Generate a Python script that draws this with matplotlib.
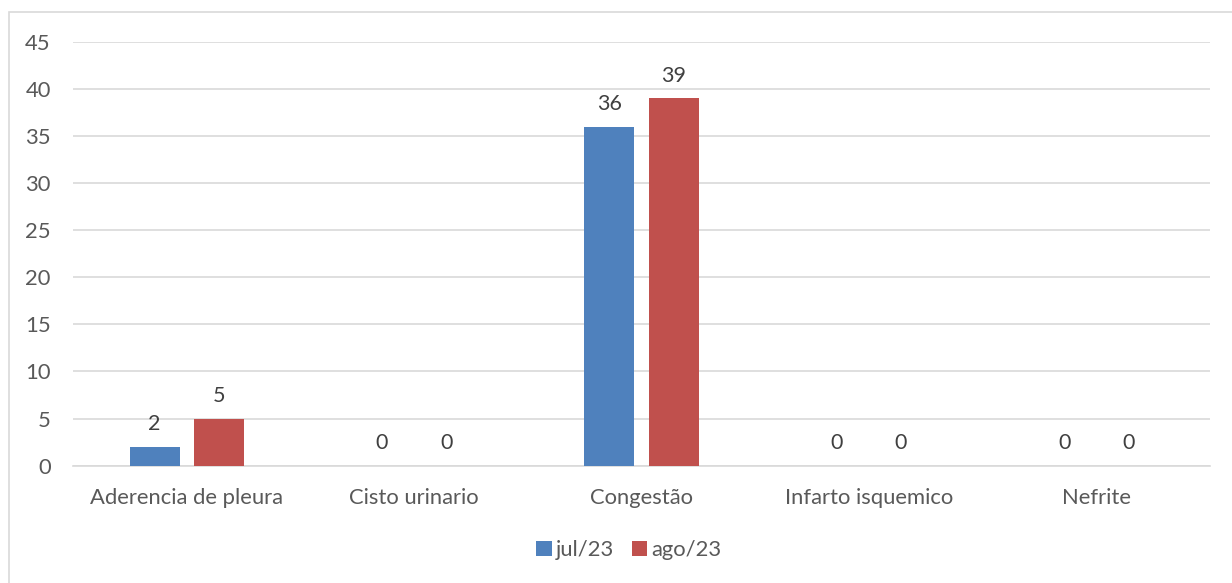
import matplotlib
matplotlib.use("Agg")
import matplotlib.pyplot as plt
from matplotlib.patches import Rectangle
import numpy as np

categories = ["Aderencia de pleura", "Cisto urinario", "Congestão", "Infarto isquemico", "Nefrite"]
series_names = ["jul/23", "ago/23"]
jul23 = [2, 0, 36, 0, 0]
ago23 = [5, 0, 39, 0, 0]
y_ticks = [0, 5, 10, 15, 20, 25, 30, 35, 40, 45]

colors = ["#4F81BD", "#C0504D"]
text_color = "#595959"
grid_color = "#D9D9D9"

plt.rcParams["font.family"] = ["Lato", "DejaVu Sans"]

fig = plt.figure(figsize=(12.32, 5.83), dpi=100)
fig.patch.set_facecolor("white")

# outer chart border
fig.add_artist(Rectangle((9 / 1232, -0.05), 1.1, 1 - 12 / 583 + 0.05,
                         transform=fig.transFigure, fill=False,
                         edgecolor=grid_color, linewidth=1.2))

ax = fig.add_axes([73 / 1232, 1 - 465.7 / 583, (1210 - 73) / 1232, (465.7 - 41.7) / 583])

x = np.arange(len(categories))
width = 0.22
offset = 0.141
for vals, name, col, off in [(jul23, series_names[0], colors[0], -offset),
                             (ago23, series_names[1], colors[1], offset)]:
    bars = ax.bar(x + off, vals, width, color=col, label=name, zorder=3)
    for b, v in zip(bars, vals):
        ax.annotate(f"{v}", (b.get_x() + b.get_width() / 2, v),
                    xytext=(0, 9), textcoords="offset points",
                    ha="center", va="bottom", fontsize=15.5, color="#404040")

ax.set_xlim(-0.5, len(categories) - 0.5)
ax.set_ylim(0, 45)
ax.set_yticks(y_ticks)
ax.set_xticks(x)
ax.set_xticklabels(categories)
ax.yaxis.grid(True, color=grid_color, linewidth=1.2, zorder=0)
ax.set_axisbelow(True)
for s in ["top", "right", "left"]:
    ax.spines[s].set_visible(False)
ax.spines["bottom"].set_color(grid_color)
ax.spines["bottom"].set_linewidth(1.2)
ax.tick_params(axis="both", length=0, labelsize=15.8, labelcolor=text_color)
ax.tick_params(axis="y", pad=16)
ax.tick_params(axis="x", pad=16)

handles, labels = ax.get_legend_handles_labels()
fig.legend(handles, labels, loc="center", bbox_to_anchor=(0.5 + 13 / 1232, 1 - 550 / 583),
           ncol=2, frameon=False, fontsize=15.8, labelcolor=text_color,
           handlelength=0.7, handleheight=0.7, handletextpad=0.2, columnspacing=0.8)

fig.savefig("out.png", dpi=100, facecolor="white")
